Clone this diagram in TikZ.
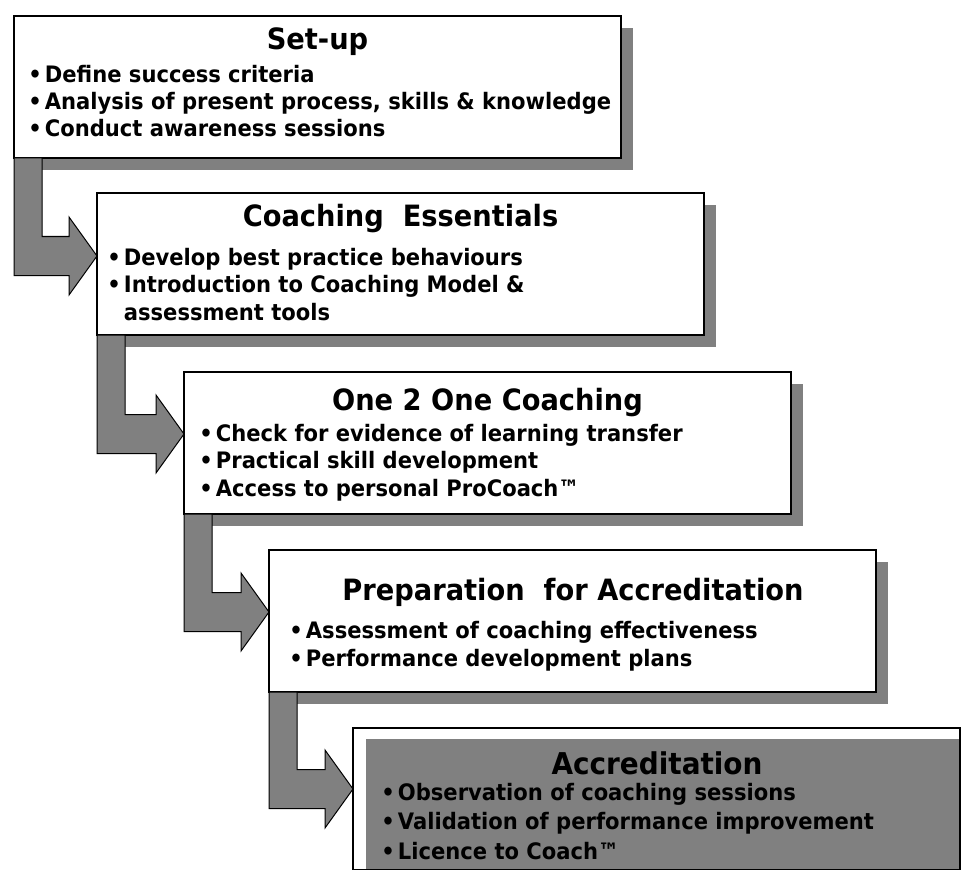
\documentclass[tikz,border=0pt]{standalone}
\usepackage{fontspec}
\setmainfont{DejaVu Sans}[FakeStretch=0.93]
\usetikzlibrary{calc,shadows}

\definecolor{shadowgray}{HTML}{808080}
\newcommand{\bul}{\makebox[11pt][l]{\hspace*{-1.5pt}•}}

\begin{document}
\begin{tikzpicture}[x=0.75pt,y=-0.75pt,
	box/.style={draw,line width=1.1pt,fill=white,minimum width=455.25pt,minimum height=106.5pt,anchor=north west,inner sep=0pt,outer sep=0pt},
	shadowed/.style={drop shadow={shadow xshift=9pt,shadow yshift=-9pt,fill=shadowgray,opacity=1}},
	title/.style={font=\bfseries\fontsize{22}{24}\selectfont,anchor=base,inner sep=0pt},
	points/.style={font=\bfseries\fontsize{17}{20.6}\selectfont,align=left,anchor=base west,inner sep=0pt},
	steparrow/.style={draw=black,line width=0.75pt,fill=shadowgray,line join=miter}]
	\useasboundingbox (0,0) rectangle (964,870);

	\node[box,shadowed] (setup) at (14,16) {};
	\node[box,shadowed] (essentials) at (97,193) {};
	\node[box,shadowed] (one2one) at (184,372) {};
	\node[box,shadowed] (prep) at (269,550) {};
	\node[box] (accr) at (353,728) {};
	\fill[shadowgray] ($(accr.north west)+(13,11)$) rectangle ($(accr.south east)+(-0.7,-0.7)$);

	% bent arrows between the steps
	\coordinate (t2) at ($(essentials.north west)+(0,63)$);
	\coordinate (t3) at ($(one2one.north west)+(0,62)$);
	\coordinate (t4) at ($(prep.north west)+(0,62)$);
	\coordinate (t5) at ($(accr.north west)+(0,61)$);
	\draw[steparrow] (setup.south west) -- ++(28,0) |- ($(t2)+(-28,-19.5)$) -- ++(0,-19.5) -- (t2) -- ++(-28,39) -- ++(0,-19.5) -| (setup.south west) -- cycle;
	\draw[steparrow] (essentials.south west) -- ++(28,0) |- ($(t3)+(-28,-19.5)$) -- ++(0,-19.5) -- (t3) -- ++(-28,39) -- ++(0,-19.5) -| (essentials.south west) -- cycle;
	\draw[steparrow] (one2one.south west) -- ++(28,0) |- ($(t4)+(-28,-19.5)$) -- ++(0,-19.5) -- (t4) -- ++(-28,39) -- ++(0,-19.5) -| (one2one.south west) -- cycle;
	\draw[steparrow] (prep.south west) -- ++(28,0) |- ($(t5)+(-28,-19.5)$) -- ++(0,-19.5) -- (t5) -- ++(-28,39) -- ++(0,-19.5) -| (prep.south west) -- cycle;

	% titles, and the bullet lists placed at their last baseline
	\node[title] (setup-t) at (317.5,50) {Set-up};
	\node[points] (setup-p) at (30,137) {\bul Define success criteria\\ \bul Analysis of present process, skills \& knowledge\\ \bul Conduct awareness sessions};

	\node[title] (essentials-t) at (400.5,227) {Coaching\ \ Essentials};
	\node[points] (essentials-p) at (109,320) {\bul Develop best practice behaviours\\ \bul Introduction to Coaching Model \&\\ \hspace*{11pt}assessment tools};

	\node[title] (one2one-t) at (487.5,410) {One 2 One Coaching};
	\node[points] (one2one-p) at (201,496) {\bul Check for evidence of learning transfer\\ \bul Practical skill development\\ \bul Access to personal ProCoach™};

	\node[title] (prep-t) at (573,600) {Preparation\ \ for Accreditation};
	\node[points] (prep-p) at (291,666) {\bul Assessment of coaching effectiveness\\ \bul Performance development plans};

	\node[title,font=\bfseries\fontsize{22.5}{25}\selectfont] (accr-t) at (657,774) {Accreditation};
	\node[points,font=\bfseries\fontsize{17}{21.8}\selectfont] (accr-p) at (383,859) {\bul Observation of coaching sessions\\ \bul Validation of performance improvement\\ \bul Licence to Coach™};
\end{tikzpicture}
\end{document}
